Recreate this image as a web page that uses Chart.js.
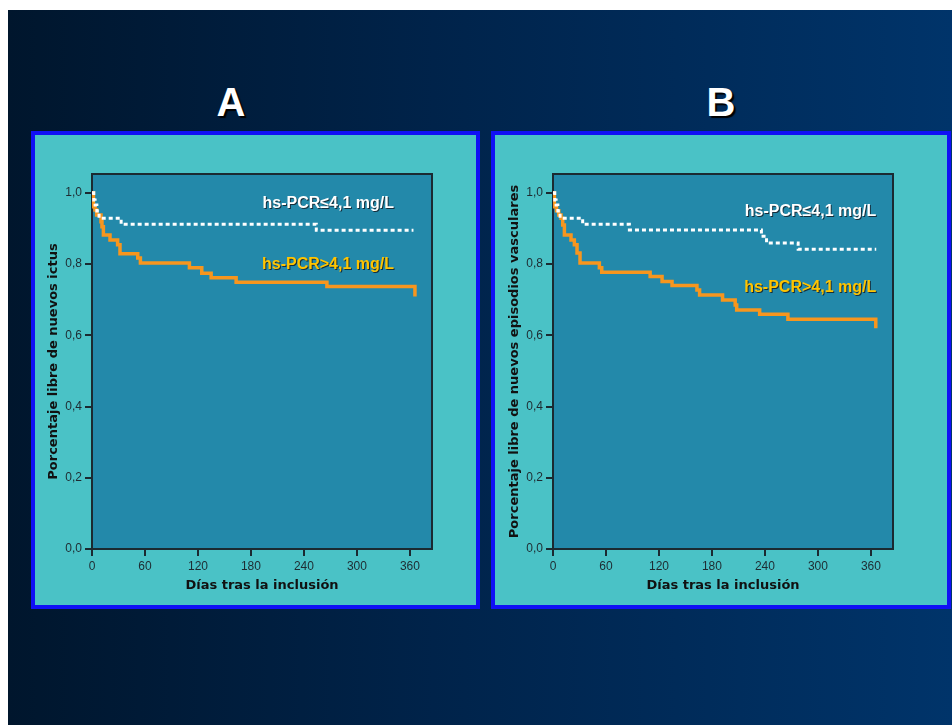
<!DOCTYPE html>
<html>
<head>
<meta charset="utf-8">
<script src="https://cdn.jsdelivr.net/npm/chart.js@4.4.1/dist/chart.umd.min.js"></script>
<style>
  html, body { margin: 0; padding: 0; background: #ffffff; width: 952px; height: 725px; overflow: hidden; }
  #bg { position: absolute; left: 8px; top: 10px; width: 944px; height: 715px;
        background: linear-gradient(to right, #00162d 0%, #00234a 45%, #00346a 100%); }
  .panel { position: absolute; background: #4ac2c6; border: 4px solid #1010f5; box-sizing: border-box; }
  .panel canvas { position: absolute; left: 0; top: 0; }
  .big { position: absolute; color: #ffffff; font: bold 40px "Liberation Sans Narrow", "Liberation Sans", Arial, sans-serif;
         text-shadow: 2px 2px 1px #000000; transform: translateX(-50%); }
</style>
</head>
<body>
<div id="bg"></div>
<div class="big" style="left:231px; top:80px;">A</div>
<div class="big" style="left:721px; top:80px;">B</div>
<div class="panel" style="left:31px; top:131px; width:449px; height:478px;">
  <canvas id="chartA" width="441" height="470"></canvas>
</div>
<div class="panel" style="left:491px; top:131px; width:460px; height:478px;">
  <canvas id="chartB" width="452" height="470"></canvas>
</div>
<script>
// ---- Data ----
const xTicks = [0, 60, 120, 180, 240, 300, 360];
const yTicks = [0, 0.2, 0.4, 0.6, 0.8, 1.0];
const yTickLabels = ["0,0", "0,2", "0,4", "0,6", "0,8", "1,0"];

const labelLow = "hs-PCR≤4,1 mg/L";
const labelHigh = "hs-PCR>4,1 mg/L";

const titleA = "Porcentaje libre de nuevos ictus";
const titleB = "Porcentaje libre de nuevos episodios vasculares";
const xTitle = "Días tras la inclusión";

// Panel A: stroke-free survival
const daysA_low = [0, 2, 3.5, 5.5, 8, 33, 254, 364];
const survA_low = [1.0, 0.98, 0.966, 0.949, 0.929, 0.912, 0.895, 0.895];
const daysA_high = [0, 1.6, 3.4, 5.3, 10.2, 11.3, 12.9, 20.4, 29, 31.7, 51.8, 54.8, 110.3, 124.3, 134.9, 163.2, 266, 365.7];
const survA_high = [1.0, 0.961, 0.952, 0.938, 0.919, 0.905, 0.882, 0.868, 0.854, 0.829, 0.817, 0.803, 0.790, 0.774, 0.762, 0.749, 0.737, 0.709];

// Panel B: vascular-event-free survival
const daysB_low = [0, 2, 3.5, 5.5, 8, 33.6, 86.5, 236, 241.8, 277.6, 366];
const survB_low = [1.0, 0.98, 0.966, 0.949, 0.929, 0.912, 0.896, 0.878, 0.859, 0.842, 0.842];
const daysB_high = [0, 1.5, 4, 6.5, 9.1, 11, 12.9, 20.4, 24.2, 27.2, 30.6, 52.5, 55.2, 110, 123.5, 134.8, 163, 166, 192, 206.3, 208, 234, 266, 365.5];
const survB_high = [1.0, 0.961, 0.95, 0.938, 0.929, 0.910, 0.882, 0.868, 0.854, 0.831, 0.803, 0.790, 0.777, 0.765, 0.751, 0.740, 0.727, 0.713, 0.699, 0.685, 0.671, 0.659, 0.645, 0.620];

// ---- Helpers ----
const FONT = "'Liberation Sans', Arial, sans-serif";
const TFONT = "'DejaVu Sans', Verdana, sans-serif";
const toPts = (xs, ys) => xs.map((x, i) => ({ x: x, y: ys[i] }));

const plotBg = {
  id: 'plotBg',
  beforeDraw(chart) {
    const { ctx, chartArea: a } = chart;
    ctx.save();
    ctx.fillStyle = '#2389aa';
    ctx.fillRect(a.left, a.top, a.right - a.left, a.bottom - a.top);
    ctx.restore();
  },
  afterDraw(chart) {
    const { ctx, chartArea: a } = chart;
    ctx.save();
    ctx.strokeStyle = '#1b2a31';
    ctx.lineWidth = 2;
    ctx.beginPath();
    ctx.moveTo(a.left, a.top);
    ctx.lineTo(a.right, a.top);
    ctx.lineTo(a.right, a.bottom);
    ctx.stroke();
    ctx.restore();
  }
};

const curveLabels = {
  id: 'curveLabels',
  afterDatasetsDraw(chart, args, opts) {
    const { ctx, scales: { x, y } } = chart;
    ctx.save();
    ctx.font = "bold 16px " + FONT;
    ctx.textAlign = 'right';
    ctx.textBaseline = 'middle';
    opts.items.forEach(it => {
      const px = x.getPixelForValue(it.x);
      const py = y.getPixelForValue(it.y);
      ctx.fillStyle = 'rgba(20,30,40,0.85)';
      ctx.fillText(it.text, px + 1, py + 1);
      ctx.fillStyle = it.color;
      ctx.fillText(it.text, px, py);
    });
    ctx.restore();
  }
};

function makeChart(id, yTitleText, lowX, lowY, highX, highY, pad, yAxisW, yTitlePad, labelItems) {
  return new Chart(document.getElementById(id), {
    type: 'line',
    data: {
      datasets: [
        {
          label: labelLow,
          data: toPts(lowX, lowY),
          stepped: 'before',
          borderColor: '#ffffff',
          borderWidth: 3,
          borderDash: [4, 3],
          borderCapStyle: 'butt',
          pointRadius: 0,
          fill: false
        },
        {
          label: labelHigh,
          data: toPts(highX, highY),
          stepped: 'before',
          borderColor: '#f7961e',
          borderWidth: 3.5,
          pointRadius: 0,
          fill: false
        }
      ]
    },
    options: {
      responsive: false,
      animation: false,
      devicePixelRatio: 1,
      layout: { padding: pad },
      plugins: {
        legend: { display: false },
        tooltip: { enabled: false },
        curveLabels: { items: labelItems }
      },
      scales: {
        x: {
          type: 'linear',
          min: 0,
          max: 385,
          afterBuildTicks: s => { s.ticks = xTicks.map(v => ({ value: v })); },
          afterFit: s => { s.height = 56; },
          ticks: { color: '#1e2b31', font: { family: FONT, size: 12 }, padding: 3, maxRotation: 0, autoSkip: false },
          grid: { display: true, drawOnChartArea: false, drawTicks: true, tickLength: 7, color: '#1b2a31', lineWidth: 2 },
          border: { display: true, color: '#1b2a31', width: 2 },
          title: { display: true, text: xTitle, color: '#111111', font: { family: TFONT, size: 13, weight: 'bold' }, padding: { top: 0, bottom: 12 } }
        },
        y: {
          type: 'linear',
          min: 0,
          max: 1.053,
          afterBuildTicks: s => { s.ticks = yTicks.map(v => ({ value: v })); },
          afterFit: s => { s.width = yAxisW; },
          ticks: {
            color: '#1e2b31', font: { family: FONT, size: 12 }, padding: 3, autoSkip: false,
            callback: (v) => { const i = yTicks.findIndex(t => Math.abs(t - v) < 1e-6); return i >= 0 ? yTickLabels[i] : ''; }
          },
          grid: { display: true, drawOnChartArea: false, drawTicks: true, tickLength: 7, color: '#1b2a31', lineWidth: 2 },
          border: { display: true, color: '#1b2a31', width: 2 },
          title: { display: true, text: yTitleText, color: '#111111', font: { family: TFONT, size: 13, weight: 'bold' }, padding: { top: yTitlePad, bottom: 0 } }
        }
      }
    },
    plugins: [plotBg, curveLabels]
  });
}

makeChart('chartA', titleA, daysA_low, survA_low, daysA_high, survA_high,
  { left: 0, right: 44, top: 39, bottom: 0 }, 57, 11,
  [ { text: labelLow, x: 342, y: 0.969, color: '#ffffff' },
    { text: labelHigh, x: 342, y: 0.798, color: '#ffc400' } ]);

makeChart('chartB', titleB, daysB_low, survB_low, daysB_high, survB_high,
  { left: 0, right: 54, top: 39, bottom: 0 }, 58, 11.5,
  [ { text: labelLow, x: 366, y: 0.947, color: '#ffffff' },
    { text: labelHigh, x: 366, y: 0.735, color: '#ffc400' } ]);
</script>
</body>
</html>
